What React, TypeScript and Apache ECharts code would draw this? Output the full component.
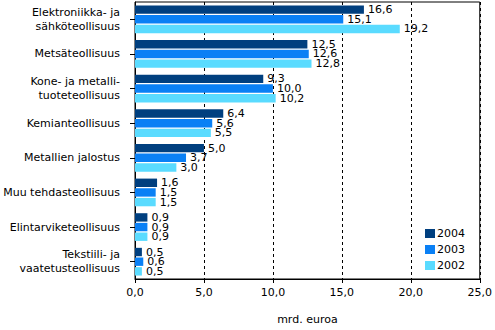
import React, { useEffect, useRef } from "react";
import * as echarts from "echarts";

const categories = [
  "Elektroniikka- ja\nsähköteollisuus",
  "Metsäteollisuus",
  "Kone- ja metalli-\ntuoteteollisuus",
  "Kemianteollisuus",
  "Metallien jalostus",
  "Muu tehdasteollisuus",
  "Elintarviketeollisuus",
  "Tekstiili- ja\nvaatetusteollisuus",
];
const values2004 = [16.6, 12.5, 9.3, 6.4, 5.0, 1.6, 0.9, 0.5];
const values2003 = [15.1, 12.6, 10.0, 5.6, 3.7, 1.5, 0.9, 0.6];
const values2002 = [19.2, 12.8, 10.2, 5.5, 3.0, 1.5, 0.9, 0.5];
const seriesNames = ["2004", "2003", "2002"];
const colors = ["#003f7f", "#0a80f5", "#5adbff"];

const fmt = (v: number) => v.toFixed(1).replace(".", ",");
const FONT = "DejaVu Sans, Verdana, sans-serif";

export default function App() {
  const ref = useRef<HTMLDivElement>(null);
  useEffect(() => {
    if (!ref.current) return;
    const chart = echarts.init(ref.current, undefined, { renderer: "svg" });
    const data = [values2004, values2003, values2002];
    chart.setOption({
      animation: false,
      textStyle: { fontFamily: FONT },
      grid: {
        left: 135,
        right: 14,
        top: 2,
        bottom: 46,
        show: true,
        borderColor: "#000",
        borderWidth: 1,
      },
      legend: {
        orient: "vertical",
        left: 425,
        top: 228,
        padding: 0,
        itemWidth: 10,
        itemHeight: 9,
        itemGap: 5,
        icon: "rect",
        data: seriesNames,
        textStyle: { fontSize: 11, color: "#000", fontFamily: FONT, padding: [0, 0, 0, -3] },
      },
      xAxis: {
        type: "value",
        min: 0,
        max: 25,
        interval: 5,
        name: "mrd. euroa",
        nameLocation: "middle",
        nameGap: 35,
        nameTextStyle: { fontSize: 11, color: "#000", fontFamily: FONT },
        axisLine: { show: true, lineStyle: { color: "#000" } },
        axisTick: { show: true, length: 4, lineStyle: { color: "#000" } },
        axisLabel: {
          fontSize: 11,
          color: "#000",
          margin: 8,
          formatter: (v: number) => fmt(v),
        },
        splitLine: { show: true, lineStyle: { color: "#000", type: [3, 3], width: 1 } },
      },
      yAxis: {
        type: "category",
        inverse: true,
        data: categories,
        axisLine: { show: true, lineStyle: { color: "#000" } },
        axisTick: { show: true, alignWithLabel: true, length: 5, lineStyle: { color: "#000" } },
        axisLabel: {
          fontSize: 11,
          color: "#000",
          margin: 15,
          lineHeight: 14,
          align: "right",
        },
        splitLine: { show: false },
      },
      series: seriesNames.map((name, i) => ({
        name,
        type: "bar",
        data: data[i],
        barCategoryGap: "20%",
        barGap: "15%",
        itemStyle: { color: colors[i] },
        label: {
          show: true,
          position: "right",
          distance: 4,
          fontSize: 11,
          color: "#000",
          fontFamily: FONT,
          formatter: (p: any) => fmt(p.value),
        },
      })),
    });
    return () => chart.dispose();
  }, []);
  return (
    <div
      ref={ref}
      style={{ position: "fixed", left: 0, top: 0, width: 495, height: 330, background: "#fff" }}
    />
  );
}
